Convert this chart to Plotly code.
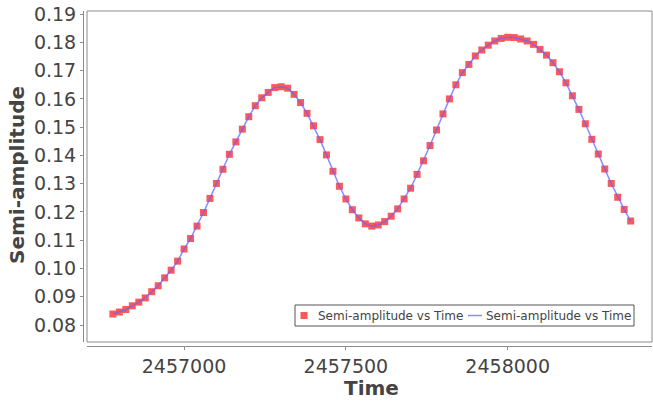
import plotly.graph_objects as go

# Data
time = [2456780 + 20 * i for i in range(81)]
semi_amplitude = [
    0.0839, 0.0846, 0.0855, 0.0868, 0.0881, 0.0896, 0.0918, 0.0939, 0.0967, 0.0994,
    0.1026, 0.1069, 0.1106, 0.1150, 0.1198, 0.1248, 0.1301, 0.1351, 0.1404, 0.1448,
    0.1493, 0.1537, 0.1576, 0.1604, 0.1623, 0.1640, 0.1643, 0.1638, 0.1616, 0.1587,
    0.1549, 0.1505, 0.1456, 0.1402, 0.1344, 0.1291, 0.1246, 0.1208, 0.1179, 0.1158,
    0.1150, 0.1154, 0.1166, 0.1185, 0.1211, 0.1246, 0.1284, 0.1333, 0.1381, 0.1435,
    0.1490, 0.1547, 0.1600, 0.1650, 0.1693, 0.1722, 0.1752, 0.1773, 0.1790, 0.1805,
    0.1814, 0.1818, 0.1817, 0.1812, 0.1805, 0.1793, 0.1775, 0.1755, 0.1728, 0.1696,
    0.1657, 0.1611, 0.1563, 0.1512, 0.1457, 0.1405, 0.1352, 0.1301, 0.1252, 0.1209,
    0.1168,
]
series_name = "Semi-amplitude vs Time"
x_title = "Time"
y_title = "Semi-amplitude"

W, H = 653, 403
ML, MR, MT, MB = 83, 1, 11, 57
PW = W - ML - MR
PH = H - MT - MB
GAP = 4
dx = GAP / PW
dy = GAP / PH

FONT = "DejaVu Sans"
TXT = "#444444"
AXC = "#8c8c8c"
MARKER_C = "rgba(255,70,70,0.9)"
LINE_C = "rgba(100,100,255,0.75)"


def px(xp):
    return (xp - ML) / PW


def py(yp):
    return (H - MB - yp) / PH


fig = go.Figure()
fig.add_trace(go.Scatter(
    x=time, y=semi_amplitude, mode="markers", name=series_name,
    marker=dict(symbol="square", size=7, color=MARKER_C, line=dict(width=0)),
))
fig.add_trace(go.Scatter(
    x=time, y=semi_amplitude, mode="lines", name=series_name,
    line=dict(color=LINE_C, width=1.5),
))

# legend box (drawn to match the compact reference legend)
LX0, LX1, LY0, LY1 = 295, 634, 305, 326
LYC = (LY0 + LY1) / 2
shapes = [
    dict(type="rect", xref="paper", yref="paper", x0=dx, x1=1, y0=dy, y1=1,
         line=dict(color=AXC, width=1), fillcolor="rgba(0,0,0,0)", layer="above"),
    dict(type="rect", xref="paper", yref="paper",
         x0=px(LX0), x1=px(LX1), y0=py(LY1), y1=py(LY0),
         line=dict(color="#555555", width=1), fillcolor="white", layer="above"),
    dict(type="rect", xref="paper", yref="paper",
         x0=px(300.5), x1=px(307.5), y0=py(LYC + 3.5), y1=py(LYC - 3.5),
         line=dict(width=0), fillcolor=MARKER_C, layer="above"),
    dict(type="line", xref="paper", yref="paper",
         x0=px(468), x1=px(482), y0=py(LYC), y1=py(LYC),
         line=dict(color=LINE_C, width=1.5), layer="above"),
]

annotations = [
    dict(text=f"<b>{y_title}</b>", xref="paper", yref="paper",
         x=px(17), y=py(175), textangle=-90,
         xanchor="center", yanchor="middle", showarrow=False,
         font=dict(family=FONT, size=20, color=TXT)),
    dict(text=f"<b>{x_title}</b>", xref="paper", yref="paper",
         x=px(371), y=py(388),
         xanchor="center", yanchor="middle", showarrow=False,
         font=dict(family=FONT, size=20, color=TXT)),
    dict(text=series_name, xref="paper", yref="paper",
         x=px(316), y=py(LYC), xanchor="left", yanchor="middle", showarrow=False,
         font=dict(family=FONT, size=12, color=TXT)),
    dict(text=series_name, xref="paper", yref="paper",
         x=px(484), y=py(LYC), xanchor="left", yanchor="middle", showarrow=False,
         font=dict(family=FONT, size=12, color=TXT)),
]

fig.update_layout(
    width=W, height=H,
    margin=dict(l=ML, r=MR, t=MT, b=MB, autoexpand=False),
    paper_bgcolor="white", plot_bgcolor="white",
    font=dict(family=FONT, color=TXT),
    showlegend=False,
    xaxis=dict(
        domain=[dx, 1], anchor="free", position=0,
        range=[2456700, 2458446],
        tickmode="linear", tick0=2457000, dtick=500, tickformat="d",
        showgrid=False, zeroline=False,
        showline=True, linecolor=AXC, linewidth=1,
        ticks="outside", ticklen=3, tickcolor=AXC,
        tickfont=dict(family=FONT, size=19, color=TXT),
    ),
    yaxis=dict(
        domain=[dy, 1], anchor="free", position=0,
        range=[0.0740, 0.1911],
        tickmode="linear", tick0=0.08, dtick=0.01, tickformat=".2f",
        showgrid=False, zeroline=False,
        showline=True, linecolor=AXC, linewidth=1,
        ticks="outside", ticklen=3, tickcolor=AXC,
        tickfont=dict(family=FONT, size=19, color=TXT),
    ),
    shapes=shapes,
    annotations=annotations,
)

fig.write_html("out.html")
